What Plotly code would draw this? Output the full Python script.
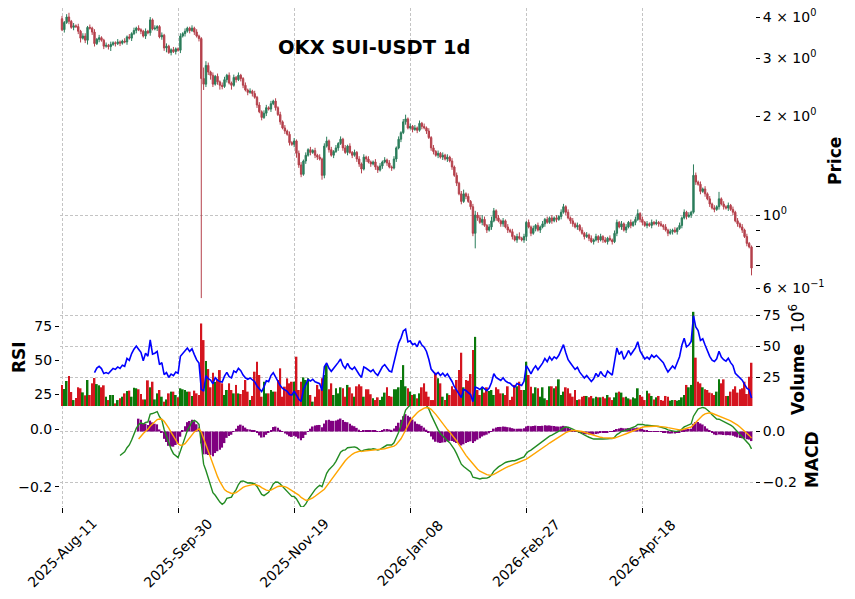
import numpy as np
import pandas as pd
import plotly.graph_objects as go

start_date = "2025-08-11"
first_open = 3.95

closes = [
    3.66, 3.85, 4.00, 3.88, 3.72, 3.76, 3.74, 3.62, 3.45, 3.50,
    3.40, 3.72, 3.70, 3.60, 3.32, 3.42, 3.46, 3.40, 3.26, 3.28,
    3.25, 3.30, 3.34, 3.32, 3.36, 3.33, 3.38, 3.36, 3.48, 3.45,
    3.56, 3.64, 3.70, 3.66, 3.62, 3.50, 3.62, 3.58, 3.92, 3.68,
    3.70, 3.74, 3.48, 3.52, 3.22, 3.26, 3.12, 3.18, 3.14, 3.20,
    3.17, 3.50, 3.56, 3.62, 3.70, 3.64, 3.70, 3.60, 3.50, 3.44,
    2.60, 2.50, 2.85, 2.72, 2.66, 2.50, 2.64, 2.54, 2.48, 2.46,
    2.58, 2.66, 2.52, 2.48, 2.62, 2.58, 2.66, 2.60, 2.48, 2.40,
    2.36, 2.38, 2.34, 2.28, 2.16, 2.06, 1.98, 2.04, 2.12, 2.10,
    2.18, 2.22, 2.12, 2.02, 1.92, 1.84, 1.80, 1.76, 1.66, 1.64,
    1.68, 1.54, 1.42, 1.33, 1.46, 1.52, 1.58, 1.55, 1.57, 1.52,
    1.50, 1.48, 1.32, 1.62, 1.68, 1.58, 1.52, 1.56, 1.60, 1.65,
    1.70, 1.60, 1.55, 1.62, 1.55, 1.52, 1.55, 1.48, 1.43, 1.38,
    1.50, 1.48, 1.45, 1.43, 1.45, 1.40, 1.37, 1.41, 1.45, 1.47,
    1.44, 1.40, 1.39, 1.48, 1.60, 1.70, 1.78, 1.92, 1.96, 1.84,
    1.86, 1.82, 1.84, 1.81, 1.90, 1.86, 1.84, 1.80, 1.72, 1.60,
    1.56, 1.52, 1.54, 1.50, 1.52, 1.48, 1.50, 1.46, 1.40, 1.32,
    1.25, 1.16, 1.10, 1.16, 1.14, 1.10, 1.06, 0.88, 1.00, 0.98,
    0.95, 0.97, 0.93, 0.90, 0.92, 0.96, 1.03, 0.98, 0.96, 0.94,
    0.96, 0.92, 0.90, 0.89, 0.86, 0.84, 0.86, 0.85, 0.84, 0.86,
    0.95, 0.92, 0.88, 0.91, 0.93, 0.90, 0.92, 0.94, 0.97, 0.95,
    0.98, 0.96, 0.98, 0.97, 0.99, 1.02, 1.06, 1.02, 0.98, 0.96,
    0.94, 0.92, 0.93, 0.90, 0.88, 0.86, 0.87, 0.85, 0.83, 0.84,
    0.86, 0.84, 0.86, 0.84, 0.83, 0.85, 0.84, 0.83, 0.88, 0.95,
    0.92, 0.94, 0.90, 0.92, 0.95, 0.93, 0.95, 0.97, 1.01, 0.97,
    0.95, 0.93, 0.94, 0.93, 0.95, 0.94, 0.95, 0.94, 0.93, 0.92,
    0.90, 0.88, 0.89, 0.90, 0.89, 0.91, 0.93, 0.98, 1.02, 0.99,
    1.00, 1.02, 1.32, 1.26, 1.24, 1.18, 1.20, 1.16, 1.12, 1.08,
    1.05, 1.04, 1.06, 1.12, 1.08, 1.06, 1.05, 1.07, 1.04, 1.02,
    0.96, 0.94, 0.92, 0.90, 0.86, 0.82, 0.80, 0.69,
]

upper_wick_pct = [
    2, 1, 2, 3, 1, 2, 1, 2, 1, 2,
    2, 1, 2, 1, 2, 1, 2, 1, 1, 2,
    1, 2, 1, 1, 2, 1, 1, 2, 1, 2,
    1, 2, 1, 2, 1, 1, 2, 1, 2, 1,
    2, 1, 1, 2, 1, 2, 1, 1, 2, 1,
    1, 2, 1, 2, 1, 1, 2, 1, 2, 1,
    1, 8, 3, 2, 1, 2, 1, 2, 1, 2,
    2, 1, 2, 1, 2, 1, 2, 1, 1, 2,
    1, 2, 1, 2, 1, 2, 1, 2, 2, 1,
    2, 1, 2, 1, 2, 1, 2, 1, 2, 1,
    2, 1, 2, 2, 1, 2, 1, 2, 1, 2,
    1, 2, 1, 2, 3, 1, 2, 1, 2, 1,
    2, 1, 2, 1, 2, 1, 2, 1, 2, 1,
    2, 1, 2, 1, 1, 2, 1, 2, 1, 2,
    1, 2, 1, 2, 1, 2, 1, 2, 3, 1,
    2, 1, 2, 1, 2, 1, 2, 1, 2, 1,
    2, 1, 2, 1, 2, 1, 2, 1, 2, 1,
    2, 1, 2, 3, 1, 2, 1, 2, 3, 2,
    2, 3, 2, 1, 2, 3, 2, 1, 2, 1,
    2, 1, 2, 1, 2, 1, 2, 3, 1, 2,
    1, 2, 1, 2, 1, 2, 1, 2, 1, 2,
    1, 2, 1, 2, 1, 2, 2, 1, 2, 1,
    2, 1, 2, 1, 2, 1, 2, 1, 2, 1,
    2, 1, 2, 1, 2, 1, 2, 1, 2, 2,
    1, 2, 1, 2, 1, 2, 1, 2, 3, 1,
    2, 1, 2, 1, 2, 1, 2, 1, 2, 1,
    2, 1, 2, 1, 2, 1, 2, 1, 2, 1,
    2, 1, 8, 2, 1, 2, 1, 2, 1, 2,
    1, 2, 1, 5, 1, 2, 1, 2, 1, 2,
    1, 2, 1, 2, 1, 2, 1, 1,
]

lower_wick_pct = [
    1, 2, 1, 2, 1, 2, 1, 2, 3, 1,
    2, 3, 1, 2, 2, 1, 2, 1, 2, 1,
    2, 3, 1, 2, 1, 2, 1, 1, 2, 1,
    2, 1, 2, 1, 2, 1, 2, 1, 2, 1,
    1, 2, 1, 2, 2, 3, 1, 2, 1, 2,
    1, 2, 1, 2, 1, 2, 1, 2, 1, 2,
    78.5, 4, 2, 2, 3, 2, 1, 2, 3, 2,
    1, 2, 1, 3, 1, 2, 1, 2, 2, 1,
    2, 1, 2, 1, 2, 1, 2, 1, 2, 1,
    2, 1, 2, 1, 2, 1, 2, 1, 2, 1,
    2, 3, 2, 2, 1, 2, 1, 2, 1, 2,
    2, 1, 3, 2, 1, 2, 1, 2, 1, 2,
    1, 2, 1, 2, 1, 2, 1, 2, 2, 3,
    1, 2, 1, 2, 1, 2, 2, 1, 2, 1,
    2, 1, 2, 1, 2, 1, 2, 1, 2, 1,
    1, 2, 1, 2, 1, 2, 1, 2, 1, 2,
    2, 1, 2, 1, 2, 1, 2, 1, 2, 1,
    2, 1, 2, 1, 2, 1, 2, 2, 10, 2,
    1, 2, 1, 2, 1, 2, 1, 2, 1, 2,
    2, 1, 2, 1, 2, 1, 2, 1, 1, 2,
    3, 1, 2, 1, 2, 1, 2, 1, 2, 1,
    1, 2, 1, 2, 1, 2, 1, 2, 1, 2,
    2, 1, 2, 1, 1, 2, 1, 2, 1, 2,
    1, 2, 1, 2, 1, 2, 1, 2, 1, 2,
    1, 2, 1, 2, 1, 2, 1, 2, 1, 2,
    2, 1, 2, 1, 2, 1, 1, 2, 1, 2,
    1, 2, 1, 2, 1, 2, 1, 2, 1, 2,
    1, 2, 1, 2, 1, 2, 1, 2, 1, 2,
    1, 2, 1, 2, 1, 2, 1, 2, 1, 2,
    1, 2, 1, 2, 1, 2, 1, 5,
]

volumes_m = [
    18.6, 15.3, 21.8, 25.8, 12.9, 6.4, 8.0, 16.7, 15.9, 12.6,
    10.2, 22.6, 10.5, 19.9, 24.2, 19.3, 18.3, 16.7, 18.3, 9.1,
    6.4, 10.5, 10.5, 3.7, 6.4, 7.8, 9.1, 11.8, 13.7, 14.0,
    9.1, 16.4, 15.9, 15.1, 11.3, 6.9, 6.9, 22.3, 16.7, 21.2,
    6.9, 11.8, 14.5, 9.1, 5.1, 6.9, 11.8, 13.2, 13.2, 10.5,
    8.6, 15.9, 15.1, 14.5, 13.2, 13.2, 9.7, 14.0, 11.8, 10.5,
    68.2, 54.8, 37.9, 31.4, 16.7, 28.5, 21.0, 22.6, 30.6, 19.9,
    10.5, 14.5, 19.9, 14.5, 11.8, 18.6, 11.8, 11.3, 14.5, 22.6,
    13.2, 6.4, 9.7, 29.3, 37.3, 26.6, 9.1, 21.2, 11.8, 11.8,
    14.5, 13.2, 13.2, 22.6, 32.0, 9.1, 17.2, 23.9, 19.9, 21.2,
    21.2, 41.4, 14.5, 21.2, 24.7, 22.6, 23.9, 10.5, 5.1, 9.1,
    18.6, 15.1, 23.9, 26.6, 34.6, 15.1, 19.9, 10.5, 15.9, 11.8,
    16.7, 15.9, 9.1, 18.6, 16.7, 11.8, 9.1, 17.5, 19.1, 17.5,
    9.1, 15.1, 15.1, 11.1, 7.8, 6.4, 8.6, 6.4, 9.1, 12.4,
    16.7, 9.7, 9.1, 15.1, 15.1, 16.7, 22.6, 34.6, 17.5, 15.9,
    13.2, 10.5, 11.1, 7.8, 11.8, 16.7, 19.9, 13.2, 9.1, 6.4,
    6.4, 28.5, 23.9, 19.9, 9.1, 6.4, 11.8, 10.5, 17.5, 15.1,
    22.6, 30.6, 44.6, 16.7, 22.6, 22.0, 27.4, 46.7, 57.4, 14.5,
    10.5, 16.7, 12.4, 16.7, 13.7, 14.5, 10.5, 16.7, 15.1, 11.8,
    11.8, 10.5, 17.5, 6.4, 9.1, 18.6, 17.5, 21.2, 14.5, 14.5,
    37.3, 26.6, 17.2, 11.8, 16.7, 15.9, 9.1, 16.7, 7.8, 6.4,
    17.5, 17.5, 15.9, 17.5, 23.1, 10.5, 13.2, 16.7, 15.9, 11.8,
    9.1, 14.5, 6.4, 6.9, 9.1, 9.7, 9.7, 8.6, 9.7, 7.8,
    9.1, 8.6, 8.6, 9.1, 7.8, 10.5, 8.6, 6.4, 8.6, 12.4,
    13.2, 12.4, 8.6, 9.1, 7.8, 6.9, 8.6, 7.8, 15.9, 10.5,
    9.1, 6.4, 13.9, 11.8, 9.7, 6.9, 8.6, 9.7, 6.4, 5.9,
    9.7, 9.1, 5.9, 6.4, 6.4, 5.9, 6.4, 8.6, 10.5, 18.6,
    16.7, 18.6, 77.6, 40.6, 21.2, 19.9, 16.7, 15.1, 14.5, 12.4,
    11.8, 10.5, 13.2, 23.1, 19.9, 23.1, 9.7, 9.7, 13.2, 15.1,
    17.5, 12.4, 15.1, 15.9, 21.2, 11.3, 25.2, 36.5,
]

tick_labels = ["2025-Aug-11", "2025-Sep-30", "2025-Nov-19",
               "2026-Jan-08", "2026-Feb-27", "2026-Apr-18"]
price_tick_vals = [0.6, 0.7, 0.8, 0.9, 1, 2, 3, 4]
price_tick_text = ["6 × 10<sup>−1</sup>", "", "", "", "10<sup>0</sup>",
                   "2 × 10<sup>0</sup>", "3 × 10<sup>0</sup>", "4 × 10<sup>0</sup>"]

n = len(closes)
assert len(upper_wick_pct) == n and len(lower_wick_pct) == n and len(volumes_m) == n, (
    n, len(upper_wick_pct), len(lower_wick_pct), len(volumes_m))

dates = pd.date_range(start_date, periods=n, freq="D")
idx = np.arange(n)
opens = [first_open] + closes[:-1]
highs = [max(o, c) * (1 + u / 100) for o, c, u in zip(opens, closes, upper_wick_pct)]
lows = [min(o, c) * (1 - l / 100) for o, c, l in zip(opens, closes, lower_wick_pct)]

date_str = [d.strftime("%Y-%b-%d") for d in dates]
tick_idx = [date_str.index(t) for t in tick_labels]

# RSI(14), Wilder smoothing seeded with a simple average
PERIOD = 14
c_arr = np.asarray(closes, dtype=float)
d = np.diff(c_arr)
g = np.clip(d, 0, None)
l_ = np.clip(-d, 0, None)
rsi = np.full(n, np.nan)
ag = g[:PERIOD].mean()
al = l_[:PERIOD].mean()
rsi[PERIOD] = 100 - 100 / (1 + ag / al)
for k in range(PERIOD, len(d)):
    ag = (ag * (PERIOD - 1) + g[k]) / PERIOD
    al = (al * (PERIOD - 1) + l_[k]) / PERIOD
    rsi[k + 1] = 100 - 100 / (1 + ag / al)

cs = pd.Series(closes, dtype=float)
ema12 = cs.ewm(span=12, adjust=False).mean()
ema26 = cs.ewm(span=26, adjust=False).mean()
macd = ema12 - ema26
macd.iloc[:25] = np.nan
signal = macd.ewm(span=9, adjust=False).mean()
signal.iloc[:33] = np.nan
hist = macd - signal

W, H = 855, 599
FONT = "DejaVu Sans"
UP, DN = "#2b7d5b", "#b5414c"
VUP, VDN = "#0a780a", "#d4151f"
GRID = "#c4c4c4"


def fx(p):
    return p / W


def fy(p):
    return 1 - p / H


x_dom = [fx(60), fx(755)]
x_rng = [-0.86, n - 1 + 1.5]

fig = go.Figure()
fig.add_trace(go.Candlestick(
    x=idx, open=opens, high=highs, low=lows, close=closes,
    xaxis="x", yaxis="y",
    increasing=dict(line=dict(color=UP, width=1), fillcolor=UP),
    decreasing=dict(line=dict(color=DN, width=1), fillcolor=DN),
    whiskerwidth=0, showlegend=False, hoverinfo="skip"))

vol_colors = [VUP if c >= o else VDN for o, c in zip(opens, closes)]
fig.add_trace(go.Bar(
    x=idx, y=np.array(volumes_m) * 1e6, width=0.78,
    marker=dict(color=vol_colors, line=dict(width=0)),
    xaxis="x2", yaxis="y2", showlegend=False, hoverinfo="skip"))
fig.add_trace(go.Scatter(
    x=idx, y=rsi, mode="lines", line=dict(color="#0000ff", width=1.6),
    xaxis="x2", yaxis="y3", showlegend=False, hoverinfo="skip"))

fig.add_trace(go.Bar(
    x=idx, y=hist, width=0.75,
    marker=dict(color="#800080", line=dict(width=0)),
    xaxis="x3", yaxis="y4", showlegend=False, hoverinfo="skip"))
fig.add_trace(go.Scatter(
    x=idx, y=macd, mode="lines", line=dict(color="#228b22", width=1.4),
    xaxis="x3", yaxis="y5", showlegend=False, hoverinfo="skip"))
fig.add_trace(go.Scatter(
    x=idx, y=signal, mode="lines", line=dict(color="#ffa500", width=1.4),
    xaxis="x3", yaxis="y5", showlegend=False, hoverinfo="skip"))

tickfont = dict(family=FONT, size=14, color="#000000")
xcommon = dict(range=x_rng, domain=x_dom, tickmode="array", tickvals=tick_idx,
               showgrid=True, gridcolor=GRID, griddash="3px,2px", gridwidth=0.8,
               zeroline=False, showline=False, showticklabels=False)

fig.update_layout(
    width=W, height=H, autosize=False,
    margin=dict(l=0, r=0, t=0, b=0),
    paper_bgcolor="white", plot_bgcolor="white",
    showlegend=False, boxgap=0.15,
    xaxis=dict(**xcommon, anchor="y", ticks="", rangeslider=dict(visible=False)),
    xaxis2=dict(**xcommon, anchor="y2", matches="x", ticks=""),
    xaxis3=dict(**xcommon, anchor="y4", matches="x",
                ticks="outside", ticklen=5, tickcolor="#000"),
    yaxis=dict(type="log", domain=[fy(306), fy(8)], anchor="x", side="right",
               range=[np.log10(0.529), np.log10(4.26)],
               tickmode="array", tickvals=price_tick_vals, ticktext=price_tick_text,
               ticks="outside", ticklen=4, tickcolor="#000", tickfont=tickfont,
               showgrid=False, zeroline=False, showline=False,
               minor=dict(tickmode="array", tickvals=[1], showgrid=True, gridcolor=GRID,
                          griddash="3px,2px", gridwidth=0.8, ticks="", ticklen=0)),
    yaxis2=dict(domain=[fy(406), fy(306)], anchor="x2", side="right",
                range=[1.6e6, 82.3e6], tickmode="array",
                tickvals=[25e6, 50e6, 75e6], ticktext=["25", "50", "75"],
                ticks="outside", ticklen=4, tickcolor="#000", tickfont=tickfont,
                showgrid=True, gridcolor=GRID, griddash="3px,2px", gridwidth=0.8,
                zeroline=False, showline=False),
    yaxis3=dict(overlaying="y2", anchor="x2", side="left",
                range=[16.2, 89.7], tickmode="array", tickvals=[25, 50, 75],
                ticktext=["25", "50", "75"],
                ticks="outside", ticklen=4, tickcolor="#000", tickfont=tickfont,
                showgrid=False, zeroline=False, showline=False),
    yaxis4=dict(domain=[fy(507), fy(406)], anchor="x3", side="right",
                range=[-0.296, 0.1], tickmode="array", tickvals=[0, -0.2],
                ticktext=["0.0", "−0.2"],
                ticks="outside", ticklen=4, tickcolor="#000", tickfont=tickfont,
                showgrid=True, gridcolor=GRID, griddash="3px,2px", gridwidth=0.8,
                zeroline=False, showline=False),
    yaxis5=dict(overlaying="y4", anchor="x3", side="left",
                range=[-0.271, 0.082], tickmode="array", tickvals=[0, -0.2],
                ticktext=["0.0", "−0.2"],
                ticks="outside", ticklen=4, tickcolor="#000", tickfont=tickfont,
                showgrid=False, zeroline=False, showline=False),
)

ann_font = dict(family=FONT, size=17, color="#000000")
annotations = [
    dict(text="<b>OKX SUI-USDT 1d</b>", x=fx(374), y=fy(47),
         font=dict(family=FONT, size=19.5, color="#000000")),
    dict(text="<b>Price</b>", x=fx(835), y=fy(161), textangle=-90, font=ann_font),
    dict(text="<b>RSI</b>", x=fx(19), y=fy(357), textangle=-90, font=ann_font),
    dict(text="<b>Volume</b>  10<sup>6</sup>", x=fx(797), y=fy(360), textangle=-90, font=ann_font),
    dict(text="<b>MACD</b>", x=fx(812), y=fy(460), textangle=-90, font=ann_font),
]
for a in annotations:
    a.update(xref="paper", yref="paper", xanchor="center", yanchor="middle",
             showarrow=False)
# rotated date labels centred on their ticks, as in the reference
for ti, lab in zip(tick_idx, tick_labels):
    annotations.append(dict(text=lab, x=ti, xref="x3", y=fy(553), yref="paper",
                            xanchor="center", yanchor="middle", textangle=-45,
                            showarrow=False, font=tickfont))
fig.update_layout(annotations=annotations)

fig.write_html("out.html")
